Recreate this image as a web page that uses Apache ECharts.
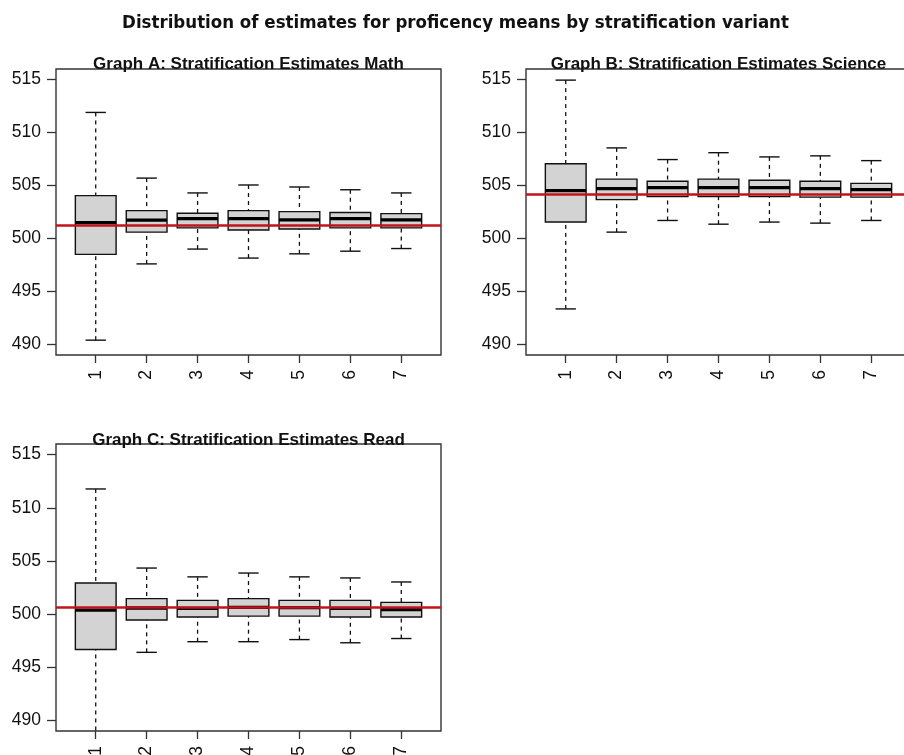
<!DOCTYPE html>
<html>
<head>
<meta charset="utf-8">
<script src="https://cdn.jsdelivr.net/npm/echarts@6/dist/echarts.min.js"></script>
<style>
html,body{margin:0;padding:0;background:#fff;}
#chart{width:904px;height:755px;}
</style>
</head>
<body>
<div id="chart"></div>
<script>
// ---- data ----
const categories = [1, 2, 3, 4, 5, 6, 7];
const yTicks = [490, 495, 500, 505, 510, 515];

// each entry: [lower whisker, Q1, median, Q3, upper whisker]
const mathStats = [
  [490.4, 498.5, 501.5, 504.05, 511.9],
  [497.6, 500.6, 501.73, 502.63, 505.7],
  [499.0, 501.0, 501.88, 502.38, 504.3],
  [498.15, 500.8, 501.88, 502.63, 505.05],
  [498.55, 500.9, 501.76, 502.54, 504.86],
  [498.8, 501.0, 501.88, 502.45, 504.6],
  [499.05, 501.0, 501.76, 502.35, 504.3]
];
const scienceStats = [
  [493.35, 501.55, 504.52, 507.05, 514.95],
  [500.6, 503.67, 504.71, 505.6, 508.55],
  [501.7, 503.95, 504.8, 505.4, 507.45],
  [501.35, 503.95, 504.8, 505.6, 508.1],
  [501.55, 503.95, 504.8, 505.5, 507.7],
  [501.45, 503.9, 504.71, 505.4, 507.8],
  [501.7, 503.9, 504.61, 505.2, 507.35]
];
const readStats = [
  [488.3, 496.67, 500.38, 502.92, 511.77],
  [496.4, 499.44, 500.57, 501.45, 504.33],
  [497.4, 499.72, 500.54, 501.29, 503.5],
  [497.4, 499.81, 500.63, 501.45, 503.86],
  [497.6, 499.81, 500.6, 501.29, 503.5],
  [497.3, 499.72, 500.54, 501.29, 503.4],
  [497.7, 499.72, 500.41, 501.1, 503.02]
];
const mathRef = 501.25;
const scienceRef = 504.14;
const readRef = 500.6;

const mainTitle = 'Distribution of estimates for proficency means by stratification variant';
const panelTitles = [
  'Graph A: Stratification Estimates Math',
  'Graph B: Stratification Estimates Science',
  'Graph C: Stratification Estimates Read'
];

// ---- chart ----
const AX_FONT = '"Liberation Sans", Arial, sans-serif';
const INK = '#111';

function toRows(stats) {
  return stats.map((s, i) => [categories[i], s[0], s[1], s[2], s[3], s[4]]);
}

function renderBox(params, api) {
  const x = api.value(0);
  const lo = api.coord([x, api.value(1)]);
  const q1 = api.coord([x, api.value(2)]);
  const med = api.coord([x, api.value(3)]);
  const q3 = api.coord([x, api.value(4)]);
  const hi = api.coord([x, api.value(5)]);
  const boxW = api.size([0.8, 0])[0];
  const capW = api.size([0.4, 0])[0];
  const cx = lo[0];
  const dash = { stroke: INK, lineWidth: 1.3, lineDash: [4, 4] };
  const solid = { stroke: INK, lineWidth: 1.4 };
  return {
    type: 'group',
    children: [
      { type: 'line', shape: { x1: cx, y1: hi[1], x2: cx, y2: q3[1] }, style: dash },
      { type: 'line', shape: { x1: cx, y1: lo[1], x2: cx, y2: q1[1] }, style: dash },
      { type: 'line', shape: { x1: cx - capW / 2, y1: hi[1], x2: cx + capW / 2, y2: hi[1] }, style: solid },
      { type: 'line', shape: { x1: cx - capW / 2, y1: lo[1], x2: cx + capW / 2, y2: lo[1] }, style: solid },
      { type: 'rect', shape: { x: cx - boxW / 2, y: q3[1], width: boxW, height: q1[1] - q3[1] },
        style: { fill: '#d3d3d3', stroke: INK, lineWidth: 1.4 } },
      { type: 'line', shape: { x1: cx - boxW / 2, y1: med[1], x2: cx + boxW / 2, y2: med[1] },
        style: { stroke: '#000', lineWidth: 3.3 } }
    ]
  };
}

const grids = [
  { left: 56, top: 69, width: 385, height: 286 },
  { left: 526, top: 69, width: 385, height: 286 },
  { left: 56, top: 444, width: 385, height: 287 }
];

const xAxes = grids.map((g, i) => ({
  type: 'value', gridIndex: i, min: 0.22, max: 7.78,
  axisLine: { show: false },
  splitLine: { show: false },
  axisTick: { show: true, length: 8, customValues: categories, lineStyle: { color: '#333', width: 1.3 } },
  axisLabel: { customValues: categories, rotate: 90, margin: 15, color: '#111',
    fontFamily: AX_FONT, fontSize: 17.5 }
}));
const yAxes = grids.map((g, i) => ({
  type: 'value', gridIndex: i, min: 489, max: 516,
  axisLine: { show: false },
  splitLine: { show: false },
  axisTick: { show: true, length: 9, customValues: yTicks, lineStyle: { color: '#333', width: 1.3 } },
  axisLabel: { customValues: yTicks, margin: 15, color: '#111',
    fontFamily: AX_FONT, fontSize: 17.5 }
}));

const statsList = [mathStats, scienceStats, readStats];
const refs = [mathRef, scienceRef, readRef];
const series = statsList.map((st, i) => ({
  type: 'custom', xAxisIndex: i, yAxisIndex: i, clip: true,
  renderItem: renderBox,
  encode: { x: 0, y: [1, 2, 3, 4, 5] },
  data: toRows(st),
  markLine: {
    silent: true, symbol: ['none', 'none'], animation: false,
    label: { show: false },
    lineStyle: { color: '#c0141c', width: 2.6, type: 'solid' },
    data: [{ yAxis: refs[i] }]
  }
}));

const titleStyle = { fontFamily: AX_FONT, fontWeight: 'bold', fontSize: 17, color: '#111' };
const option = {
  backgroundColor: '#fff',
  animation: false,
  title: [
    { text: mainTitle, left: 455.5, textAlign: 'center', top: 14, padding: 0,
      textStyle: { fontFamily: '"Liberation Sans Narrow", "DejaVu Sans Condensed", "Open Sans", sans-serif',
        fontWeight: 'bold', fontSize: 18.5, color: '#111' } },
    { text: panelTitles[0], left: 248.5, textAlign: 'center', top: 56, padding: 0, textStyle: titleStyle },
    { text: panelTitles[1], left: 718.5, textAlign: 'center', top: 56, padding: 0, textStyle: titleStyle },
    { text: panelTitles[2], left: 248.5, textAlign: 'center', top: 432, padding: 0, textStyle: titleStyle }
  ],
  grid: grids.map(g => Object.assign({
    show: true, borderColor: '#333', borderWidth: 1.4, backgroundColor: 'transparent',
    containLabel: false, outerBoundsMode: 'none'
  }, g)),
  xAxis: xAxes,
  yAxis: yAxes,
  series: series
};

const chart = echarts.init(document.getElementById('chart'), null, { renderer: 'canvas' });
chart.setOption(option);
</script>
</body>
</html>
